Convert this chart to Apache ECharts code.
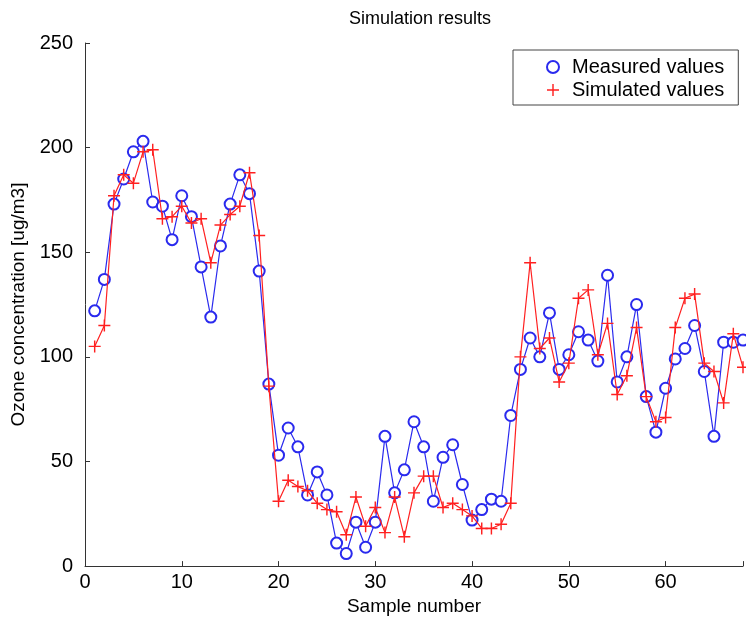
<!DOCTYPE html>
<html>
<head>
<meta charset="utf-8">
<script src="https://cdn.jsdelivr.net/npm/echarts@6/dist/echarts.min.js"></script>
<style>
html,body{margin:0;padding:0;background:#fff;}
#chart{width:746px;height:621px;}
</style>
</head>
<body>
<div id="chart"></div>
<script>
var samples = [];
for (var i = 1; i <= 68; i++) samples.push(i);

var measured = [122,137,173,185,198,203,174,172,156,177,
                167,143,119,153,173,187,178,141,87,53,
                66,57,34,45,34,11,6,21,9,21,
                62,35,46,69,57,31,52,58,39,22,
                27,32,31,72,94,109,100,121,94,101,
                112,108,98,139,88,100,125,81,64,85,
                99,104,115,93,62,107,107,108];

var simulated = [105,115,177,187,183,198,199,166,167,172,
                 164,166,145,163,168,172,188,158,86,31,
                 41,38,36,30,27,26,15,33,19,28,
                 16,33,14,35,43,43,28,30,27,24,
                 18,18,20,30,100,145,104,109,88,97,
                 128,132,101,116,82,91,114,81,69,71,
                 114,128,130,97,93,78,111,95];

var xTicks = [0,10,20,30,40,50,60];
var yTicks = [0,50,100,150,200,250];

var FONT = '"Liberation Sans", Arial, sans-serif';
var PLUS = 'path://M4.4,0H5.6V4.4H10V5.6H5.6V10H4.4V5.6H0V4.4H4.4Z';

function pairs(arr){ return arr.map(function(v,i){ return [samples[i], v]; }); }

var chart = echarts.init(document.getElementById('chart'), null, {renderer:'canvas'});
chart.setOption({
  animation: false,
  backgroundColor: '#fff',
  title: {
    text: 'Simulation results',
    left: 415, top: 5, textAlign: 'center',
    textStyle: {fontFamily: FONT, fontSize: 18, fontWeight: 'normal', color: '#000'}
  },
  legend: {
    orient: 'vertical', left: 513, top: 50,
    padding: [7, 14, 5, 33], itemGap: 3,
    itemWidth: 12, itemHeight: 12,
    backgroundColor: '#fff', borderColor: '#444', borderWidth: 1,
    textStyle: {fontFamily: FONT, fontSize: 20, lineHeight: 20, color: '#000', padding: [0,0,0,8]},
    data: [
      {name: 'Measured values', icon: 'emptyCircle'},
      {name: 'Simulated values', icon: PLUS}
    ]
  },
  grid: {left: 85, right: 0, top: 43, bottom: 53, containLabel: false},
  xAxis: {
    type: 'value', min: 0, max: 68, interval: 10,
    name: 'Sample number', nameLocation: 'middle', nameGap: 29,
    nameTextStyle: {fontFamily: FONT, fontSize: 19, color: '#000'},
    axisLine: {show: true, lineStyle: {color: '#333', width: 1}},
    axisTick: {show: true, inside: true, length: 5, lineStyle: {color: '#333'}},
    axisLabel: {fontFamily: FONT, fontSize: 20, color: '#000', margin: 6,
      formatter: function(v){ return xTicks.indexOf(v) >= 0 ? String(v) : ''; }},
    splitLine: {show: false}
  },
  yAxis: {
    type: 'value', min: 0, max: 250, interval: 50,
    name: 'Ozone concentration [ug/m3]', nameLocation: 'middle', nameGap: 52,
    nameTextStyle: {fontFamily: FONT, fontSize: 19, color: '#000'},
    axisLine: {show: true, lineStyle: {color: '#333', width: 1}},
    axisTick: {show: true, inside: true, length: 5, lineStyle: {color: '#333'}},
    axisLabel: {fontFamily: FONT, fontSize: 20, color: '#000', margin: 12,
      formatter: function(v){ return yTicks.indexOf(v) >= 0 ? String(v) : ''; }},
    splitLine: {show: false}
  },
  series: [
    {
      name: 'Measured values', type: 'line', data: pairs(measured),
      symbol: 'emptyCircle', symbolSize: 11, showAllSymbol: true,
      lineStyle: {color: '#2a2aee', width: 1.2},
      itemStyle: {color: '#2a2aee', borderColor: '#2a2aee', borderWidth: 1.2},
      z: 2
    },
    {
      name: 'Simulated values', type: 'line', data: pairs(simulated),
      symbol: PLUS, symbolSize: 12, showAllSymbol: true,
      lineStyle: {color: '#ff2020', width: 1.2},
      itemStyle: {color: '#ff2020', borderWidth: 0},
      z: 3
    }
  ]
});
</script>
</body>
</html>
